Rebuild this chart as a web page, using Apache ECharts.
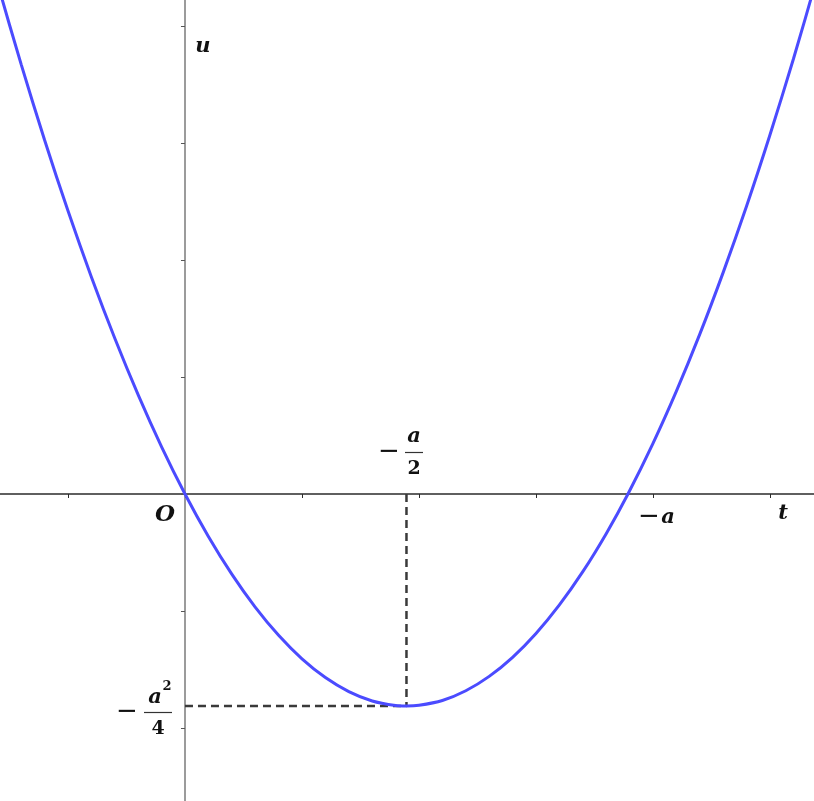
<!DOCTYPE html>
<html>
<head>
<meta charset="utf-8">
<script src="https://cdn.jsdelivr.net/npm/echarts@6/dist/echarts.min.js"></script>
<style>
    html, body {margin: 0; padding: 0; background: #fff;}
    #chart {width: 814px; height: 801px;}
</style>
</head>
<body>
<div id="chart"></div>
<script>
// points (t, u), in axis units
const tValues = [-1.8, -1.6, -1.4, -1.2, -1.0, -0.8, -0.6, -0.4, -0.2, 0, 0.2, 0.4, 0.6, 0.8, 1.0, 1.2, 1.4, 1.6, 1.8, 1.893,
    2.0, 2.2, 2.4, 2.6, 2.8, 3.0, 3.2, 3.4, 3.6, 3.786, 4.0, 4.2, 4.4, 4.6, 4.8, 5.0, 5.2, 5.4, 5.6]
const uValues = [5.085, 4.358, 3.672, 3.026, 2.420, 1.855, 1.331, 0.847, 0.403, 0, -0.363, -0.685, -0.967, -1.208, -1.409, -1.569, -1.689, -1.769, -1.808, -1.812,
    -1.806, -1.765, -1.682, -1.559, -1.396, -1.192, -0.948, -0.664, -0.339, 0, 0.433, 0.879, 1.366, 1.894, 2.461, 3.070, 3.718, 4.408, 5.137]

// axis ticks
const tTicks = [-1, 0, 1, 2, 3, 4, 5]
const uTicks = [-2, -1, 0, 1, 2, 3, 4]

// vertex (-a/2, -a^2/4)
const vertexT = 1.893
const vertexU = -1.812

const serif = 'DejaVu Serif'
const ink = '#111'

const curveData = tValues.map((t, i) => [t, uValues[i]])

// 文字标注
function label(text, x, y, size) {
    return {
        type: 'text', x: x, y: y,
        style: {
            text: text,
            fill: ink,
            font: 'italic bold ' + (size || 21) + 'px "' + serif + '"',
            align: 'center',
            verticalAlign: 'middle'
        }
    }
}

function digit(text, x, y, size) {
    return {
        type: 'text', x: x, y: y,
        style: {text: text, fill: ink, font: 'bold ' + (size || 19) + 'px "' + serif + '"', align: 'center', verticalAlign: 'middle'}
    }
}

function minus(x, y) {
    return {
        type: 'text', x: x, y: y,
        style: {text: '−', fill: ink, font: '26px "DejaVu Sans"', align: 'center', verticalAlign: 'middle'}
    }
}

function bar(x1, x2, y) {
    return {
        type: 'line',
        shape: {x1: x1, y1: y, x2: x2, y2: y},
        style: {stroke: '#333', lineWidth: 1.2}
    }
}

const option = {
    animation: false,
    grid: {left: 0, right: 0, top: 0, bottom: 0, containLabel: false},
    xAxis: {
        type: 'value',
        min: -1.581,
        max: 5.376,
        axisLine: {onZero: true, lineStyle: {color: '#2a2a2a', width: 1.5}},
        axisTick: {show: true, length: 4, customValues: tTicks, lineStyle: {color: '#2a2a2a', width: 1}},
        axisLabel: {show: false},
        splitLine: {show: false}
    },
    yAxis: {
        type: 'value',
        min: -2.624,
        max: 4.222,
        axisLine: {onZero: true, lineStyle: {color: '#7a7a7a', width: 1.5}},
        axisTick: {show: true, length: 4, customValues: uTicks, lineStyle: {color: '#555', width: 1}},
        axisLabel: {show: false},
        splitLine: {show: false}
    },
    series: [
        {
            type: 'line',
            data: [[vertexT, 0], [vertexT, vertexU]],
            symbol: 'none',
            lineStyle: {color: '#3a3a3a', width: 2.5, type: [8, 5]},
            z: 3
        },
        {
            type: 'line',
            data: [[0, vertexU], [vertexT, vertexU]],
            symbol: 'none',
            lineStyle: {color: '#3a3a3a', width: 2.5, type: [8, 5]},
            z: 3
        },
        {
            type: 'line',
            data: curveData,
            smooth: 0.3,
            symbol: 'none',
            lineStyle: {color: '#4b4bff', width: 3},
            z: 4
        }
    ],
    graphic: [
        label('u', 203, 47),
        label('O', 165, 515, 23),
        label('t', 783, 514),
        minus(649, 517),
        label('a', 668, 518),
        // -a/2
        minus(389, 452),
        label('a', 414, 437),
        bar(405, 423, 452.5),
        digit('2', 414, 469),
        // -a^2/4
        minus(127, 712),
        label('a', 155, 698),
        digit('2', 167, 687, 13),
        bar(144, 172, 712.5),
        digit('4', 158, 729)
    ]
}

const myChart = echarts.init(document.getElementById('chart'))
myChart.setOption(option)
</script>
</body>
</html>
